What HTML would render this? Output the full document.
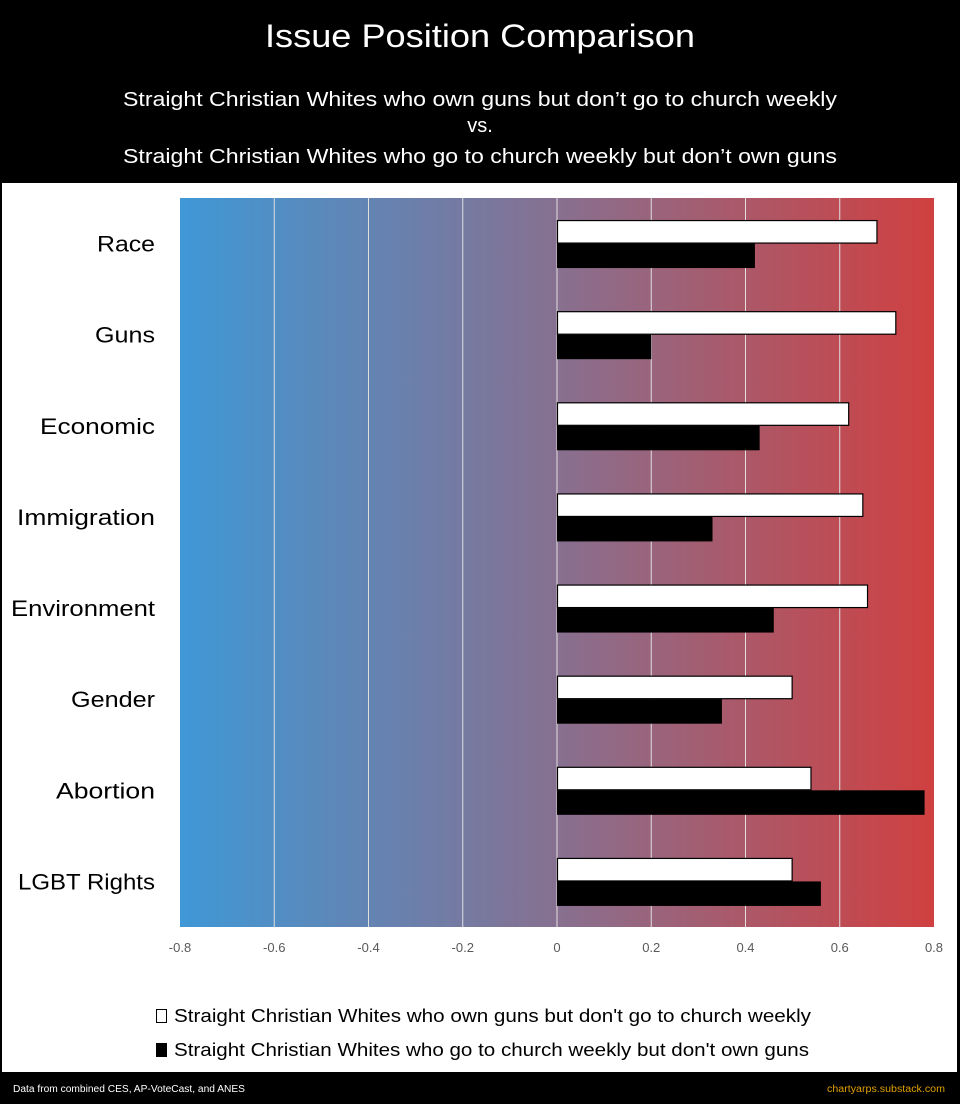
<!DOCTYPE html>
<html><head><meta charset="utf-8"><style>
html,body{margin:0;padding:0;background:#000;}
svg{display:block;font-family:"Liberation Sans",sans-serif;}
</style></head><body>
<svg id="chart" width="960" height="1104" viewBox="0 0 960 1104">
<defs><linearGradient id="bg" x1="0" x2="1" y1="0" y2="0">
<stop offset="0" stop-color="#3f98d6"/><stop offset="0.5" stop-color="#877090"/><stop offset="1" stop-color="#d04040"/></linearGradient></defs>
<rect x="0" y="0" width="960" height="1104" fill="#000"/>
<text x="480" y="47" fill="#fff" font-size="32" text-anchor="middle" textLength="430" lengthAdjust="spacingAndGlyphs">Issue Position Comparison</text>
<text x="480" y="106" fill="#fff" font-size="20" text-anchor="middle" textLength="714" lengthAdjust="spacingAndGlyphs">Straight Christian Whites who own guns but don’t go to church weekly</text>
<text x="480" y="132" fill="#fff" font-size="20" text-anchor="middle">vs.</text>
<text x="480" y="163" fill="#fff" font-size="20" text-anchor="middle" textLength="714" lengthAdjust="spacingAndGlyphs">Straight Christian Whites who go to church weekly but don’t own guns</text>
<rect x="2" y="183" width="955" height="889" fill="#fff"/>
<rect x="180" y="198" width="754" height="729" fill="url(#bg)"/>
<g id="grid"></g><g id="bars"></g><g id="labels"></g><g id="ticks"></g>
<rect x="156.5" y="1009.5" width="10" height="13" fill="#fff" stroke="#000" stroke-width="1"/>
<text x="174" y="1022" font-size="18" fill="#000" textLength="637" lengthAdjust="spacingAndGlyphs">Straight Christian Whites who own guns but don't go to church weekly</text>
<rect x="156" y="1043" width="11" height="14" fill="#000"/>
<text x="174" y="1056" font-size="18" fill="#000" textLength="635" lengthAdjust="spacingAndGlyphs">Straight Christian Whites who go to church weekly but don't own guns</text>
<text x="13" y="1092" font-size="10" fill="#fff" textLength="232" lengthAdjust="spacingAndGlyphs">Data from combined CES, AP-VoteCast, and ANES</text>
<text x="945" y="1092" font-size="10" fill="#e0a000" text-anchor="end" textLength="118" lengthAdjust="spacingAndGlyphs">chartyarps.substack.com</text>
</svg>
<script>
const categories = ["Race","Guns","Economic","Immigration","Environment","Gender","Abortion","LGBT Rights"];
const gunOwnersValues = [0.68,0.72,0.62,0.65,0.66,0.50,0.54,0.50];
const churchgoersValues = [0.42,0.20,0.43,0.33,0.46,0.35,0.78,0.56];
const tickValues = [-0.8,-0.6,-0.4,-0.2,0,0.2,0.4,0.6,0.8];
const tickLabels = ["-0.8","-0.6","-0.4","-0.2","0","0.2","0.4","0.6","0.8"];
const labelWidths = [58,60,115,138,144,84,99,137];

const NS="http://www.w3.org/2000/svg";
const plotL=180, plotR=934, plotT=198, plotB=927;
const xMin=-0.8, xMax=0.8;
function xScale(v){return plotL+(v-xMin)/(xMax-xMin)*(plotR-plotL);}
const band=(plotB-plotT)/categories.length;
function yCenter(i){return plotT+band*(i+0.5);}
function mk(tag,attrs,parent){const e=document.createElementNS(NS,tag);for(const k in attrs)e.setAttribute(k,attrs[k]);parent.appendChild(e);return e;}
const grid=document.getElementById('grid'), bars=document.getElementById('bars'), labels=document.getElementById('labels'), ticks=document.getElementById('ticks');
tickValues.forEach((v,i)=>{
  const x=xScale(v);
  if(i>0&&i<tickValues.length-1){
    const g=mk('line',{x1:x,x2:x,y1:plotT,y2:plotB,stroke:'#e0e0e0','stroke-width':1},grid);
    
    
  }
  const t=mk('text',{x:x,y:952,'font-size':13,fill:'#595959','text-anchor':'middle'},ticks);
  t.textContent=tickLabels[i];
  
  
});
const bh=23.5, x0=xScale(0);
categories.forEach((c,i)=>{
  const yc=yCenter(i);
  const w1=xScale(gunOwnersValues[i])-x0;
  const r1=mk('rect',{x:x0+0.5,y:yc-bh+0.5,width:Math.max(0,w1-1),height:bh-1,fill:'#fff',stroke:'#000','stroke-width':1.2},bars);
  
  
  const w2=xScale(churchgoersValues[i])-x0;
  const r2=mk('rect',{x:x0,y:yc,width:Math.max(0,w2),height:bh+1,fill:'#000'},bars);
  
  
  const t=mk('text',{x:155,y:yc+8,'font-size':22,fill:'#000','text-anchor':'end',textLength:labelWidths[i],lengthAdjust:'spacingAndGlyphs'},labels);
  t.textContent=c;
  
  
});
</script>
</body></html>
